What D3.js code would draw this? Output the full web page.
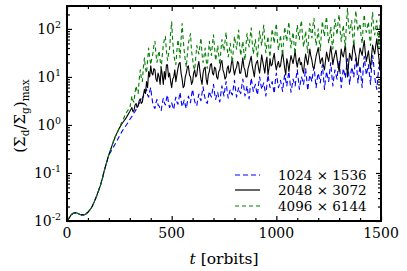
<!DOCTYPE html>
<html>
<head>
<meta charset="utf-8">
<script src="https://cdn.jsdelivr.net/npm/d3@7/dist/d3.min.js"></script>
<style>
  html, body { margin: 0; padding: 0; background: #fff; }
  svg { display: block; }
  svg text { font-family: "DejaVu Serif", serif; }
</style>
</head>
<body>
<script>
// ---- data: t = 0..290 every 10 orbits, then 300..1500 every 5 orbits ----
const times = d3.range(0, 300, 10).concat(d3.range(300, 1501, 5));

const res1024 = [
  0.010, 0.0115, 0.0135, 0.0145, 0.0148, 0.0145, 0.0138, 0.0134, 0.0134, 0.0140,
  0.0152, 0.0172, 0.020, 0.025, 0.032, 0.042, 0.056, 0.080, 0.12, 0.17,
  0.24, 0.28, 0.33, 0.40, 0.48, 0.58, 0.70, 0.82, 0.95, 1.1,
  1.3, 1.4, 1.5, 1.6, 1.8, 1.9, 2.1, 2.3, 2.6, 2.8, 3.0, 3.3, 3.6, 4.0, 4.5, 5.0, 5.5, 4.2, 3.8, 5.0,
  6.0, 3.8, 2.8, 2.4, 2.2, 2.9, 3.4, 2.6, 2.5, 2.1, 2.0, 2.8, 3.6, 2.9, 2.6, 3.5, 4.2, 2.8, 2.3, 2.6,
  2.9, 2.4, 2.1, 3.0, 3.8, 3.0, 2.7, 3.6, 4.8, 3.2, 2.4, 2.8, 3.3, 2.6, 2.2, 3.0, 4.0, 3.3, 2.9, 4.2,
  5.5, 4.0, 3.1, 2.7, 2.5, 3.5, 4.4, 3.6, 3.2, 4.6, 6.2, 4.5, 3.5, 3.0, 2.8, 3.8, 5.0, 4.2, 3.8, 5.2,
  7.0, 4.6, 3.4, 4.2, 4.8, 3.6, 3.0, 4.5, 6.5, 5.0, 4.0, 5.8, 8.0, 5.0, 3.6, 4.5, 5.5, 4.6, 4.2, 6.0,
  8.5, 5.5, 3.8, 4.8, 6.0, 5.0, 4.5, 6.5, 9.0, 6.0, 4.0, 5.0, 6.5, 4.6, 3.5, 6.0, 9.5, 7.0, 5.0, 6.0,
  7.0, 5.2, 4.2, 7.0, 10, 7.5, 5.5, 6.5, 7.5, 5.5, 4.0, 7.0, 11, 8.0, 6.0, 7.0, 8.0, 6.0, 4.5, 8.0,
  12, 8.5, 6.0, 7.0, 8.5, 6.5, 5.0, 8.0, 11, 8.5, 6.5, 9.5, 13, 8.0, 4.8, 6.5, 9.0, 7.5, 6.5, 10,
  14, 9.0, 5.5, 7.5, 10, 8.5, 7.0, 10, 15, 9.0, 5.2, 8.0, 11, 9.5, 8.0, 12, 16, 10, 6.0, 9.0,
  12, 9.5, 7.5, 12, 18, 10, 5.5, 9.0, 13, 10, 8.0, 13, 20, 11, 6.5, 10, 14, 11, 9.0, 15,
  22, 12, 6.0, 10, 15, 12, 9.5, 16, 24, 13, 7.0, 11, 16, 13, 10, 17, 25, 14, 7.5, 12,
  17, 10, 6.0, 15, 27, 17, 11, 14, 18, 11, 7.0, 16, 28, 18, 10, 7.0, 5.5, 10, 16, 14,
  12
];

const res2048 = [
  0.010, 0.0115, 0.0135, 0.0145, 0.0148, 0.0145, 0.0138, 0.0134, 0.0134, 0.0140,
  0.0152, 0.0172, 0.020, 0.025, 0.032, 0.042, 0.056, 0.080, 0.12, 0.17,
  0.24, 0.32, 0.43, 0.56, 0.70, 0.86, 1.02, 1.18, 1.35, 1.6,
  1.9, 2.1, 2.3, 1.9, 2.0, 2.6, 2.8, 2.3, 2.5, 3.2, 3.5, 2.8, 3.0, 4.2, 5.5, 4.5, 8.0, 6.0, 13, 10,
  17, 12, 11, 15, 14, 9.0, 8.0, 12, 10, 7.0, 16, 11, 7.0, 13, 9.0, 18, 18, 10, 12, 8.0,
  6.0, 9.0, 10, 14, 8.0, 11, 15, 19, 20, 12, 9.0, 6.0, 6.5, 10, 12, 16, 17, 11, 10, 7.0,
  8.0, 12, 14, 10, 11, 17, 21, 13, 9.0, 7.0, 12, 15, 16, 9.0, 7.0, 11, 13, 18, 19, 12,
  11, 16, 15, 10, 9.0, 13, 14, 20, 22, 14, 12, 9.0, 10, 15, 17, 12, 13, 19, 24, 15,
  11, 14, 16, 21, 19, 12, 12, 17, 25, 16, 14, 10, 10, 15, 18, 22, 27, 17, 13, 10,
  17, 20, 22, 15, 12, 18, 29, 21, 16, 12, 20, 26, 11, 15, 24, 17, 18, 25, 31, 19,
  14, 18, 21, 16, 17, 25, 33, 22, 15, 11, 24, 19, 13, 20, 28, 23, 19, 26, 35, 21,
  16, 22, 25, 18, 20, 14, 12, 21, 30, 22, 18, 26, 38, 27, 22, 16, 15, 20, 27, 33,
  41, 28, 19, 23, 25, 17, 14, 22, 33, 26, 21, 30, 44, 29, 18, 24, 30, 36, 24, 17,
  13, 22, 38, 29, 26, 35, 48, 20, 10, 18, 31, 26, 22, 37, 52, 34, 27, 19, 17, 28,
  40, 33, 28, 42, 57, 32, 21, 27, 35, 22, 15, 28, 46, 36, 30, 45, 62, 38, 24, 14,
  45
];

const res4096 = [
  0.010, 0.0115, 0.0135, 0.0145, 0.0148, 0.0145, 0.0138, 0.0134, 0.0134, 0.0140,
  0.0152, 0.0172, 0.020, 0.025, 0.032, 0.042, 0.056, 0.080, 0.12, 0.17,
  0.24, 0.32, 0.43, 0.56, 0.70, 0.86, 1.1, 1.35, 1.7, 2.0,
  2.2, 3.0, 4.0, 3.2, 3.0, 4.8, 6.5, 5.0, 4.5, 9.0, 14, 9.5, 8.0, 16, 25, 15, 12, 22, 40, 25,
  18, 24, 30, 45, 55, 30, 20, 28, 35, 22, 15, 28, 45, 60, 70, 35, 22, 30, 38, 80,
  140, 55, 30, 22, 18, 35, 60, 40, 25, 60, 130, 60, 35, 22, 16, 30, 50, 65, 80, 35,
  24, 16, 14, 25, 45, 35, 30, 45, 65, 30, 20, 28, 40, 22, 15, 30, 55, 35, 28, 50,
  75, 40, 22, 30, 45, 28, 18, 35, 60, 45, 35, 55, 85, 40, 26, 35, 50, 30, 20, 40,
  70, 50, 38, 60, 95, 45, 28, 40, 55, 32, 22, 45, 80, 55, 42, 70, 105, 50, 30, 42,
  60, 35, 25, 50, 90, 60, 45, 80, 120, 55, 32, 48, 70, 38, 26, 55, 100, 70, 50, 90,
  130, 60, 36, 50, 75, 40, 28, 60, 110, 75, 55, 95, 140, 65, 40, 60, 85, 45, 30, 70,
  120, 80, 60, 110, 150, 70, 42, 60, 90, 48, 32, 75, 130, 90, 65, 120, 165, 75, 45, 65,
  100, 55, 35, 80, 145, 95, 70, 130, 180, 85, 50, 70, 110, 55, 38, 90, 160, 110, 75, 140,
  200, 90, 55, 80, 120, 65, 42, 130, 270, 120, 80, 110, 150, 70, 45, 140, 240, 130, 90, 110,
  130, 70, 50, 120, 200, 110, 85, 110, 140, 70, 45, 130, 220, 100, 75, 110, 150, 70, 40, 130,
  250
];

const seriesLabels = ["1024 \u00d7 1536", "2048 \u00d7 3072", "4096 \u00d7 6144"];
const xTickValues = [0, 500, 1000, 1500];
const yTickExponents = [-2, -1, 0, 1, 2];

// ---- layout ----
const W = 407, H = 271;
const L = 67, R = 381, T = 6, B = 221;

const svg = d3.select("body").append("svg").attr("width", W).attr("height", H);

const x = d3.scaleLinear().domain([0, 1500]).range([L, R]);
const y = d3.scaleLog().domain([0.01, 300]).range([B, T]);

svg.append("clipPath").attr("id", "clip")
  .append("rect").attr("x", L).attr("y", T).attr("width", R - L).attr("height", B - T);

const series = [
  { vals: res1024, color: "#0000ff", dash: "5,3", label: seriesLabels[0] },
  { vals: res2048, color: "#000000", dash: null, label: seriesLabels[1] },
  { vals: res4096, color: "#007f00", dash: "4,3", label: seriesLabels[2] }
];

const line = d3.line()
  .defined((d, i) => i < times.length)
  .x((d, i) => x(times[i])).y(d => y(d));

const g = svg.append("g").attr("clip-path", "url(#clip)");
series.forEach(s => {
  g.append("path").datum(s.vals)
    .attr("d", line)
    .attr("fill", "none")
    .attr("stroke", s.color)
    .attr("stroke-width", 1.1)
    .attr("stroke-linejoin", "round")
    .attr("stroke-dasharray", s.dash);
});

// ---- ticks (inward, all four sides) ----
const xMinor = d3.range(0, 1501, 100).filter(v => !xTickValues.includes(v));
const yMinor = [];
for (let e = -2; e <= 2; e++) for (let k = 2; k <= 9; k++) { const v = k * Math.pow(10, e); if (v <= 300) yMinor.push(v); }
const yMajor = yTickExponents.map(e => Math.pow(10, e));

function addAxis(axFn, scale, vals, size, tr) {
  const ax = axFn(scale).tickValues(vals).tickSizeInner(-size).tickSizeOuter(0).tickFormat("");
  const a = svg.append("g").attr("transform", tr).call(ax);
  a.select(".domain").remove();
  a.selectAll("line").attr("stroke", "#000").attr("stroke-width", 1.2);
}
addAxis(d3.axisBottom, x, xTickValues, 5, `translate(0,${B})`);
addAxis(d3.axisBottom, x, xMinor, 3, `translate(0,${B})`);
addAxis(d3.axisTop, x, xTickValues, 5, `translate(0,${T})`);
addAxis(d3.axisTop, x, xMinor, 3, `translate(0,${T})`);
addAxis(d3.axisLeft, y, yMajor, 5, `translate(${L},0)`);
addAxis(d3.axisLeft, y, yMinor, 3, `translate(${L},0)`);
addAxis(d3.axisRight, y, yMajor, 5, `translate(${R},0)`);
addAxis(d3.axisRight, y, yMinor, 3, `translate(${R},0)`);

// frame
svg.append("rect").attr("x", L).attr("y", T).attr("width", R - L).attr("height", B - T)
  .attr("fill", "none").attr("stroke", "#000").attr("stroke-width", 2);

// ---- tick labels ----
const FS = 14;
xTickValues.forEach(v => {
  svg.append("text").attr("x", x(v)).attr("y", 238).attr("text-anchor", "middle")
    .attr("font-size", FS).text(v);
});
yTickExponents.forEach(e => {
  const t = svg.append("text").attr("x", 61).attr("y", y(Math.pow(10, e)) + 5)
    .attr("text-anchor", "end").attr("font-size", FS);
  t.append("tspan").text("10");
  t.append("tspan").attr("font-size", 9.5).attr("dy", -6).text(String(e));
});

// ---- axis labels ----
const xl = svg.append("text").attr("x", (L + R) / 2).attr("y", 264).attr("text-anchor", "middle")
  .attr("font-size", FS + 1.5);
xl.append("tspan").attr("font-style", "italic").text("t");
xl.append("tspan").text(" [orbits]");

const yl = svg.append("text").attr("transform", `translate(25,116) rotate(-90)`)
  .attr("text-anchor", "middle").attr("font-size", FS + 1);
yl.append("tspan").text("(\u03a3");
yl.append("tspan").attr("font-size", 10.5).attr("dy", 4).text("d");
yl.append("tspan").attr("dy", -4).text("/\u03a3");
yl.append("tspan").attr("font-size", 10.5).attr("dy", 4).text("g");
yl.append("tspan").attr("dy", -4).text(")");
yl.append("tspan").attr("font-size", 10.5).attr("dy", 4).text("max");

// ---- legend ----
const legY = [175, 190, 206];
series.forEach((s, i) => {
  svg.append("line").attr("x1", 235).attr("x2", 260).attr("y1", legY[i]).attr("y2", legY[i])
    .attr("stroke", s.color).attr("stroke-width", 1.2).attr("stroke-dasharray", s.dash);
  svg.append("text").attr("x", 278).attr("y", legY[i] + 5)
    .attr("font-size", 13.5).text(s.label);
});
</script>
</body>
</html>
